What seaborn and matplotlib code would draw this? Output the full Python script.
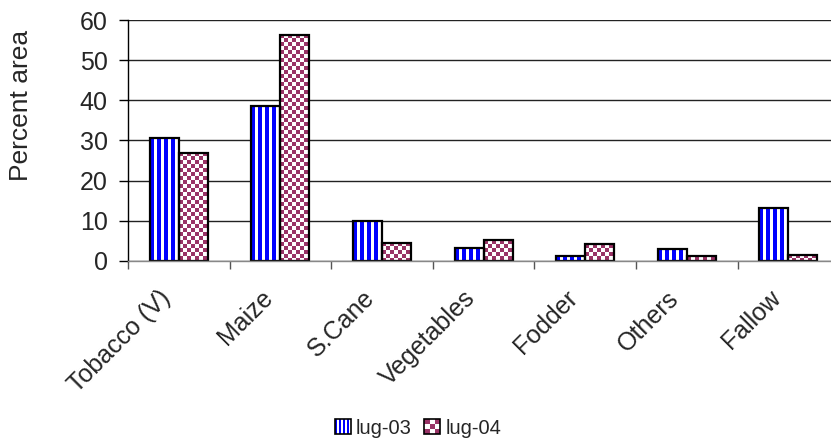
import numpy as np
import pandas as pd
import matplotlib
matplotlib.use("Agg")
import matplotlib.pyplot as plt
import seaborn as sns
from matplotlib.patches import Rectangle
from matplotlib.legend_handler import HandlerBase
from matplotlib.transforms import ScaledTranslation

categories = ["Tobacco (V)", "Maize", "S.Cane", "Vegetables", "Fodder", "Others", "Fallow"]
series_names = ["lug-03", "lug-04"]
lug03 = [30.5, 38.5, 10.0, 3.2, 1.3, 2.9, 13.3]
lug04 = [27.0, 56.3, 4.6, 5.2, 4.2, 1.2, 1.5]
y_ticks = [0, 10, 20, 30, 40, 50, 60]

BLUE = "#0000FF"
MAROON = "#993366"

sns.set_style("white")
plt.rcParams["font.family"] = ["Liberation Sans", "DejaVu Sans"]

df = pd.DataFrame({
    "cat": categories * 2,
    "series": [series_names[0]] * len(categories) + [series_names[1]] * len(categories),
    "value": lug03 + lug04,
})

W, H = 831, 447
fig = plt.figure(figsize=(W / 100, H / 100), dpi=100)
ax = fig.add_axes([128 / W, 1 - 261 / H, (831 - 128) / W, (261 - 20) / H])

sns.barplot(data=df, x="cat", y="value", hue="series", order=categories,
            hue_order=series_names, palette=["white", "white"], width=0.57,
            edgecolor="black", linewidth=1.6, ax=ax, legend=False, saturation=1)

ax.set_xlim(-0.5, 6.42)
ax.set_ylim(0, 60)
ax.set_yticks(y_ticks)
ax.set_axisbelow(True)
ax.yaxis.grid(True, color="#222222", linewidth=1.0)
ax.xaxis.grid(False)
for s in ["top", "right"]:
    ax.spines[s].set_visible(False)
ax.spines["left"].set_color("black")
ax.spines["left"].set_linewidth(1.0)
ax.spines["bottom"].set_color("#888888")
ax.spines["bottom"].set_linewidth(1.0)

ax.tick_params(axis="y", which="major", length=6.5, width=1, color="black",
               labelsize=18, pad=8, left=True, direction="out")
ax.set_xticks(range(len(categories)))
ax.set_xticklabels(categories, rotation=45, ha="right", rotation_mode="anchor", fontsize=18)
ax.tick_params(axis="x", which="major", length=0, pad=18)
for lbl in ax.get_xticklabels():
    lbl.set_transform(lbl.get_transform() + ScaledTranslation(-20 / 100, 0, fig.dpi_scale_trans))
ax.set_xticks([i - 0.5 for i in range(len(categories) + 1)], minor=True)
ax.tick_params(axis="x", which="minor", length=6, width=1, color="#555555", bottom=True, direction="out")
ax.set_xlabel("")
ax.set_ylabel("Percent area", fontsize=19)
ax.yaxis.set_label_coords((33 - 128) / 703, (261 - 105) / 241)


def stripe_img(wpx, hpx):
    w = max(int(np.ceil(wpx)), 1)
    img = np.ones((1, w, 3))
    blue = np.array(matplotlib.colors.to_rgb(BLUE))
    for j in range(w):
        if (j % 7) < 3.5:
            img[0, j] = blue
    return img


def checker_img(wpx, hpx, cell=4):
    w = max(int(np.ceil(wpx)), 1)
    h = max(int(np.ceil(hpx)), 1)
    mar = np.array(matplotlib.colors.to_rgb(MAROON))
    img = np.ones((h, w, 3))
    for i in range(h):
        for j in range(w):
            if ((i // cell) + (j // cell)) % 2 == 0:
                img[i, j] = mar
    return img


bars = [p for p in ax.patches if isinstance(p, Rectangle)]
n = len(categories)
for k, p in enumerate(bars):
    x0, y0 = p.get_x(), p.get_y()
    x1, y1 = x0 + p.get_width(), y0 + p.get_height()
    (dx0, dy0), (dx1, dy1) = ax.transData.transform([(x0, y0), (x1, y1)])
    wpx, hpx = abs(dx1 - dx0), abs(dy1 - dy0)
    img = stripe_img(wpx, hpx) if k < n else checker_img(wpx, hpx)
    im = ax.imshow(img, extent=(x0, x1, y0, y1), origin="upper", aspect="auto",
                   interpolation="nearest", zorder=p.get_zorder() - 0.05)
    im.set_clip_path(p)
    p.set_facecolor("none")

ax.set_xlim(-0.5, 6.42)
ax.set_ylim(0, 60)


class StripeHandle:
    pass


class CheckHandle:
    pass


class HandlerStripe(HandlerBase):
    def create_artists(self, legend, orig_handle, xdescent, ydescent, width, height, fontsize, trans):
        side = height * 1.0
        x0 = -xdescent + (width - side) / 2
        y0 = -ydescent
        arts = [Rectangle((x0, y0), side, side, facecolor="white", edgecolor="none", transform=trans)]
        nst = 4
        sw = side / nst
        for i in range(nst):
            arts.append(Rectangle((x0 + i * sw, y0), sw * 0.5, side, facecolor=BLUE,
                                  edgecolor="none", transform=trans))
        arts.append(Rectangle((x0, y0), side, side, fill=False, edgecolor="black", linewidth=1.2, transform=trans))
        return arts


class HandlerCheck(HandlerBase):
    def create_artists(self, legend, orig_handle, xdescent, ydescent, width, height, fontsize, trans):
        side = height * 1.0
        x0 = -xdescent + (width - side) / 2
        y0 = -ydescent
        arts = [Rectangle((x0, y0), side, side, facecolor="white", edgecolor="none", transform=trans)]
        nc = 3
        c = side / nc
        for i in range(nc):
            for j in range(nc):
                if (i + j) % 2 == 0:
                    arts.append(Rectangle((x0 + i * c, y0 + j * c), c, c, facecolor=MAROON,
                                          edgecolor="none", transform=trans))
        arts.append(Rectangle((x0, y0), side, side, fill=False, edgecolor="black", linewidth=1.2, transform=trans))
        return arts


h1, h2 = StripeHandle(), CheckHandle()
fig.legend([h1, h2], series_names, loc="center", bbox_to_anchor=(418 / W, 1 - 428 / H),
           ncol=2, frameon=False, fontsize=14.5, handlelength=0.8, handleheight=0.8,
           handletextpad=0.25, columnspacing=0.6,
           handler_map={StripeHandle: HandlerStripe(), CheckHandle: HandlerCheck()})

fig.savefig("out.png", dpi=100)
